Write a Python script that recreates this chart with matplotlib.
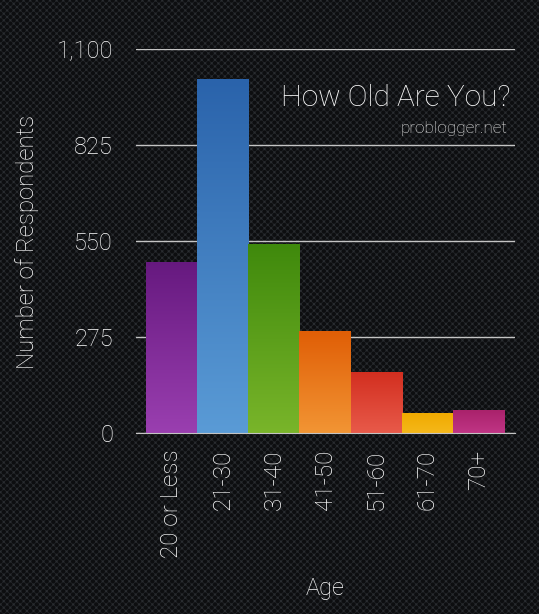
import numpy as np
import matplotlib.pyplot as plt
from matplotlib.colors import LinearSegmentedColormap

# data
ages = ["20 or Less", "21-30", "31-40", "41-50", "51-60", "61-70", "70+"]
respondents = [490, 1014, 541, 292, 175, 57, 66]
y_ticks = [0, 275, 550, 825, 1100]
y_tick_labels = ["0", "275", "550", "825", "1,100"]

# colours: top / bottom of each bar gradient
top_colors = ["#66197f", "#2a63ab", "#3f890c", "#e05e06", "#d22e1f", "#f0aa00", "#a8216a"]
bottom_colors = ["#9a3fb0", "#5a9bd6", "#79b52a", "#f29534", "#e85a4a", "#f5b81a", "#c03585"]

FONT = ["Roboto", "DejaVu Sans"]
plt.rcParams['font.family'] = FONT

W, H = 539, 614
fig = plt.figure(figsize=(W / 100, H / 100), dpi=100)

# perforated metal background
bg = fig.add_axes([0, 0, 1, 1])
bg.axis('off')
yy, xx = np.mgrid[0:H, 0:W].astype(float)
a, b = 6.6, 3.3
d1 = np.hypot((xx % a) - a / 2, (yy % (2 * b)) - b)
d2 = np.hypot(((xx + a / 2) % a) - a / 2, ((yy + b) % (2 * b)) - b)
d = np.minimum(d1, d2)
t = np.clip((d - 1.6) / 1.2, 0, 1)
base = np.array([0x2a, 0x2d, 0x31]) / 255
hole = np.array([0x0d, 0x0e, 0x10]) / 255
tex = hole + (base - hole) * t[..., None]
bg.imshow(tex, extent=[0, 1, 0, 1], aspect='auto', interpolation='bilinear')
bg.set_xlim(0, 1)
bg.set_ylim(0, 1)

ax = fig.add_axes([136 / W, (H - 433) / H, 379 / W, 384 / H])
ax.patch.set_alpha(0)

x = np.arange(len(ages))
bars = ax.bar(x, respondents, width=1.0, color=bottom_colors, zorder=2)
grad = np.linspace(0, 1, 256).reshape(-1, 1)
for bar, c0, c1 in zip(bars, bottom_colors, top_colors):
    cmap = LinearSegmentedColormap.from_list("g", [c0, c1])
    x0, w, h = bar.get_x(), bar.get_width(), bar.get_height()
    im = ax.imshow(grad, extent=[x0, x0 + w, 0, h], origin='lower',
                   aspect='auto', cmap=cmap, zorder=2.1)
    im.set_clip_path(bar)

ax.set_xlim(-0.696, 6.715)
ax.set_ylim(0, 1100)

ax.set_yticks(y_ticks, y_tick_labels)
ax.set_xticks(x, ages, rotation=90, va='top')
ax.yaxis.grid(True, color='#c4c4c4', linewidth=1)
ax.set_axisbelow(True)
for s in ['top', 'right', 'left']:
    ax.spines[s].set_visible(False)
ax.spines['bottom'].set_color('#c4c4c4')
ax.spines['bottom'].set_zorder(3)
ax.tick_params(axis='y', length=0, pad=16.5, labelsize=17, labelcolor='white')
ax.tick_params(axis='x', length=0, pad=12, labelsize=17.5, labelcolor='white')
for lab in ax.get_xticklabels() + ax.get_yticklabels():
    lab.set_fontweight('light')

fig.text(27 / W, 1 - 241.5 / H, "Number of Respondents", rotation=90,
         ha='center', va='center', color='white', fontsize=17.3, fontweight='light')
fig.text(325 / W, 1 - 588 / H, "Age", ha='center', va='center',
         color='white', fontsize=17, fontweight='light')
fig.text(510 / W, 1 - 106 / H, "How Old Are You?", ha='right', va='baseline',
         color='white', fontsize=21.4, fontweight='light')
fig.text(507 / W, 1 - 133 / H, "problogger.net", ha='right', va='baseline',
         color='#ededed', fontsize=12.3, fontweight='light')

fig.savefig("out.png", dpi=100)
